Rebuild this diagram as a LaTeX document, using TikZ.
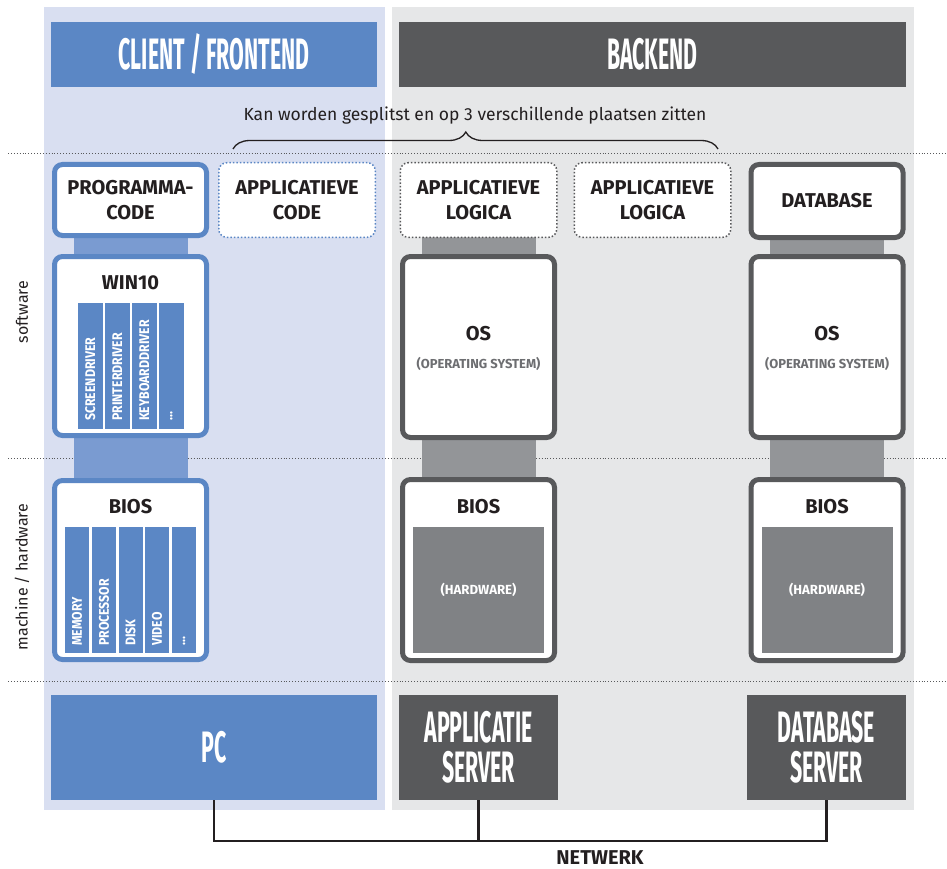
\documentclass[tikz,border=0pt]{standalone}
\usepackage{fontspec}
\setmainfont{Fira Sans}
\newfontfamily\headfont[FakeStretch=0.485]{Fira Sans}
\newfontfamily\condfont[FakeStretch=0.88]{Fira Sans}
\usetikzlibrary{decorations.pathreplacing}
\definecolor{ctext}{HTML}{231F20}
\definecolor{cblue}{HTML}{5B87C5}
\definecolor{cbar}{HTML}{7A9BD1}
\definecolor{clight}{HTML}{D9DFF1}
\definecolor{cdark}{HTML}{58595B}
\definecolor{cgbar}{HTML}{939598}
\definecolor{chw}{HTML}{808285}
\definecolor{cgbg}{HTML}{E6E7E8}
\definecolor{csub}{HTML}{6D6E71}
\pgfdeclarelayer{bg}
\pgfdeclarelayer{mid}
\pgfsetlayers{bg,mid,main}
\tikzset{
  boxb/.style={draw=cblue, line width=5pt, rounded corners=8pt, fill=white, inner sep=0pt, outer sep=0pt, minimum width=152pt, align=center, text=ctext, font=\bfseries\fontsize{20}{25}\selectfont},
  boxg/.style={boxb, draw=cdark},
  dotbox/.style={draw=#1, dotted, line width=1.5pt, rounded corners=8pt, fill=white, inner sep=0pt, outer sep=0pt, minimum width=156.5pt, minimum height=74.5pt, align=center, text=ctext, font=\bfseries\fontsize{20}{25}\selectfont},
  hdr/.style={inner sep=0pt, outer sep=0pt, text=white, align=center, font=\headfont\bfseries\fontsize{44}{40}\selectfont},
  ttl/.style={inner sep=0pt, text=ctext, font=\bfseries\fontsize{20}{22}\selectfont},
  sub/.style={inner sep=0pt, text=csub, font=\bfseries\fontsize{13}{15}\selectfont},
  colb/.style={fill=cblue, inner sep=0pt, outer sep=0pt, minimum width=24.5pt, minimum height=126pt},
  vlab/.style={rotate=90, anchor=west, inner sep=0pt, text=white, font=\condfont\bfseries\fontsize{14}{16}\selectfont},
  hw/.style={fill=chw, inner sep=0pt, outer sep=0pt, minimum width=131pt, minimum height=126pt, text=white, font=\bfseries\fontsize{13.2}{15}\selectfont},
  barb/.style={draw=cbar, line width=114pt},
  barg/.style={draw=cgbar, line width=114pt},
  net/.style={draw=ctext, line width=2.6pt},
  dotline/.style={draw=cdark, dotted, line width=0.9pt},
  side/.style={rotate=90, inner sep=0pt, text=ctext, font=\fontsize{16}{18}\selectfont}
}
\begin{document}
\begin{tikzpicture}[x=1pt,y=-1pt]
\useasboundingbox (0,0) rectangle (947,869);
\begin{pgfonlayer}{bg}
  \fill[clight] (44,7) rectangle (385,810);
  \fill[cgbg] (392,7) rectangle (914,810);
  \draw[dotline] (8,153) -- (947,153);
  \draw[dotline] (8,458) -- (947,458);
  \draw[dotline] (8,681) -- (947,681);
\end{pgfonlayer}

% headers
\node[hdr, fill=cblue, minimum width=326pt, minimum height=65pt] (client) at (214,54.5) {CLIENT / FRONTEND};
\node[hdr, fill=cdark, minimum width=507pt, minimum height=65pt] (backend) at (652.5,54.5) {BACKEND};

% brace and label
\node[inner sep=0pt, text=ctext, font=\fontsize{17.5}{20}\selectfont] (split) at (475,116) {Kan worden gesplitst en op 3 verschillende plaatsen zitten};
\coordinate (brL) at (233,149);
\coordinate (brR) at (718,149);
\draw[ctext, line width=1.3pt, decorate, decoration={brace, amplitude=17pt, aspect=0.48}] (brL) -- (brR);

% side labels
\node[side] (soft) at (22,312) {software};
\node[side] (hard) at (22,577) {machine / hardware};

% top row
\node[boxb, minimum height=71pt] (prog) at (130.5,200) {PROGRAMMA-\\CODE};
\node[dotbox=cblue] (appcode) at (297,200) {APPLICATIEVE\\CODE};
\node[dotbox=cdark] (applog1) at (478.5,200) {APPLICATIEVE\\LOGICA};
\node[dotbox=cdark] (applog2) at (652.5,200) {APPLICATIEVE\\LOGICA};
\node[boxg, minimum height=73pt] (db) at (827,201) {DATABASE};

% middle row
\node[boxb, minimum height=179pt] (win) at (130.5,346) {};
\node[boxg, minimum height=181pt] (os1) at (478.5,347) {};
\node[boxg, minimum height=181pt] (os2) at (827,347) {};

% bottom row
\node[boxb, minimum height=179pt] (bios1) at (130.5,570) {};
\node[boxg, minimum height=181pt] (bios2) at (478.5,570) {};
\node[boxg, minimum height=181pt] (bios3) at (827,570) {};

% connecting bars
\begin{pgfonlayer}{mid}
  \draw[barb] (prog.south) -- (win.north);
  \draw[barb] (win.south) -- (bios1.north);
  \draw[barg] (applog1.south) -- (os1.north);
  \draw[barg] (os1.south) -- (bios2.north);
  \draw[barg] (db.south) -- (os2.north);
  \draw[barg] (os2.south) -- (bios3.north);
\end{pgfonlayer}

% WIN10 content
\node[ttl] (wint) at (130.5,283) {WIN10};
\node[colb] (c1) at (90.25,366) {};
\node[colb] (c2) at (117.25,366) {};
\node[colb] (c3) at (144.25,366) {};
\node[colb] (c4) at (171.25,366) {};
\node[vlab] (l1) at (90.25,421) {SCREENDRIVER};
\node[vlab] (l2) at (117.25,421) {PRINTERDRIVER};
\node[vlab] (l3) at (144.25,421) {KEYBOARDDRIVER};
\node[vlab] (l4) at (171.25,421) {...};

% OS content
\node[ttl] (ost1) at (478.5,334) {OS};
\node[sub] (oss1) at (478.5,364) {(OPERATING SYSTEM)};
\node[ttl] (ost2) at (827,334) {OS};
\node[sub] (oss2) at (827,364) {(OPERATING SYSTEM)};

% BIOS content
\node[ttl] (bt1) at (130.5,507) {BIOS};
\node[ttl] (bt2) at (478.5,507) {BIOS};
\node[ttl] (bt3) at (827,507) {BIOS};
\node[colb, minimum width=24pt] (h1) at (77,590) {};
\node[colb, minimum width=24pt] (h2) at (104,590) {};
\node[colb, minimum width=24pt] (h3) at (130.5,590) {};
\node[colb, minimum width=24pt] (h4) at (157,590) {};
\node[colb, minimum width=24pt] (h5) at (184,590) {};
\node[vlab] (m1) at (77,646) {MEMORY};
\node[vlab] (m2) at (104,646) {PROCESSOR};
\node[vlab] (m3) at (130.5,646) {DISK};
\node[vlab] (m4) at (157,646) {VIDEO};
\node[vlab] (m5) at (184,646) {...};
\node[hw] (hw1) at (478.5,590) {(HARDWARE)};
\node[hw] (hw2) at (827,590) {(HARDWARE)};

% machines
\node[hdr, fill=cblue, minimum width=326pt, minimum height=105pt] (pc) at (214,747.5) {PC};
\node[hdr, fill=cdark, minimum width=159pt, minimum height=105pt] (appsrv) at (478.5,747.5) {APPLICATIE\\SERVER};
\node[hdr, fill=cdark, minimum width=159pt, minimum height=105pt] (dbsrv) at (826.5,747.5) {DATABASE\\SERVER};

% network
\coordinate (netc) at (478.5,841);
\draw[net] (pc.south) |- (netc) -| (dbsrv.south);
\draw[net] (appsrv.south) -- (netc);
\node[inner sep=0pt, text=ctext, font=\bfseries\fontsize{20}{22}\selectfont] (netw) at (600,858) {NETWERK};
\end{tikzpicture}
\end{document}
